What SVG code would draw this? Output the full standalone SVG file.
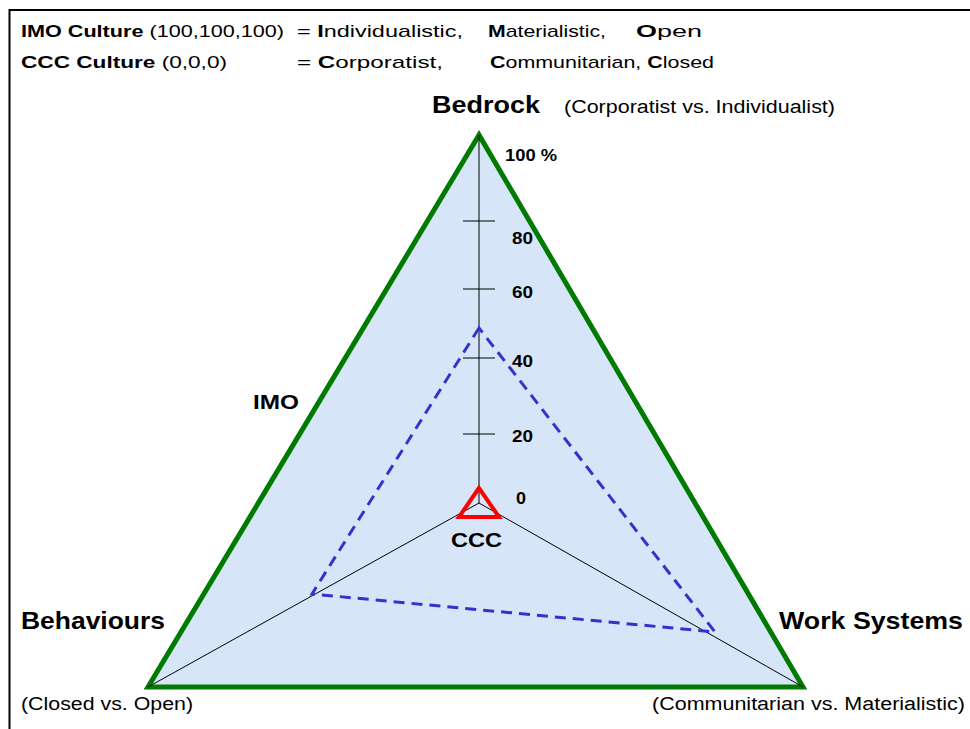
<svg xmlns="http://www.w3.org/2000/svg" width="970" height="729" viewBox="0 0 970 729">
<style>
text{font-family:"Liberation Sans",Arial,sans-serif;fill:#000}
.b{font-weight:bold}
.hdr{font-size:17px}
.big{font-size:24px;font-weight:bold}
.sub{font-size:18px}
.num{font-size:16px;font-weight:bold}
.thin{stroke:#000;stroke-width:1;fill:none}
</style>
<rect width="970" height="729" fill="#fff"/>
<path d="M9.5,729 V10 H970" fill="none" stroke="#000" stroke-width="2"/>
<g id="legend">
<text class="hdr" x="21" y="37" textLength="263" lengthAdjust="spacingAndGlyphs"><tspan class="b">IMO Culture</tspan> (100,100,100)</text>
<text class="hdr" x="297" y="37" textLength="166" lengthAdjust="spacingAndGlyphs">= <tspan class="b">I</tspan>ndividualistic,</text>
<text class="hdr" x="488" y="37" textLength="118" lengthAdjust="spacingAndGlyphs"><tspan class="b">M</tspan>aterialistic,</text>
<text class="hdr" x="636" y="37" textLength="66" lengthAdjust="spacingAndGlyphs"><tspan class="b">O</tspan>pen</text>
<text class="hdr" x="21" y="68" textLength="206" lengthAdjust="spacingAndGlyphs"><tspan class="b">CCC Culture</tspan> (0,0,0)</text>
<text class="hdr" x="297" y="68" textLength="146" lengthAdjust="spacingAndGlyphs">= <tspan class="b">C</tspan>orporatist,</text>
<text class="hdr" x="490" y="68" textLength="224" lengthAdjust="spacingAndGlyphs"><tspan class="b">C</tspan>ommunitarian, <tspan class="b">C</tspan>losed</text>
</g>
<g id="triangle">
<polygon points="479,135 148,687 803,687" fill="#d6e6f8" stroke="#007a00" stroke-width="5" stroke-linejoin="miter"/>
</g>
<g id="connectors">
<line class="thin" x1="479" y1="135" x2="479" y2="503"/>
<line class="thin" x1="479" y1="503" x2="148" y2="687"/>
<line class="thin" x1="479" y1="503" x2="803" y2="687"/>
<g stroke="#000" stroke-width="1">
<line x1="463" y1="221" x2="495" y2="221"/>
<line x1="463" y1="289" x2="495" y2="289"/>
<line x1="463" y1="358" x2="495" y2="358"/>
<line x1="463" y1="434" x2="495" y2="434"/>
</g>
<polygon points="479,328 312,594 715,632" fill="none" stroke="#3333cc" stroke-width="3" stroke-dasharray="11,7"/>
</g>
<g id="ccc-marker">
<polygon points="479,488 459,517 499,517" fill="none" stroke="#ff0000" stroke-width="4"/>
<text class="b" x="451" y="547" font-size="21" textLength="51" lengthAdjust="spacingAndGlyphs">CCC</text>
</g>
<g id="scale">
<text class="num" x="505" y="161" textLength="52" lengthAdjust="spacingAndGlyphs">100 %</text>
<text class="num" x="512" y="244" textLength="21" lengthAdjust="spacingAndGlyphs">80</text>
<text class="num" x="512" y="298" textLength="21" lengthAdjust="spacingAndGlyphs">60</text>
<text class="num" x="512" y="367" textLength="21" lengthAdjust="spacingAndGlyphs">40</text>
<text class="num" x="512" y="442" textLength="21" lengthAdjust="spacingAndGlyphs">20</text>
<text class="num" x="516" y="504" textLength="10" lengthAdjust="spacingAndGlyphs">0</text>
</g>
<g id="bedrock">
<text class="big" x="432" y="113" textLength="108" lengthAdjust="spacingAndGlyphs">Bedrock</text>
<text class="sub" x="564" y="113" textLength="271" lengthAdjust="spacingAndGlyphs">(Corporatist vs. Individualist)</text>
</g>
<g id="imo">
<text class="b" x="253" y="409" font-size="20" textLength="46" lengthAdjust="spacingAndGlyphs">IMO</text>
</g>
<g id="behaviours">
<text class="big" x="21" y="629" textLength="144" lengthAdjust="spacingAndGlyphs">Behaviours</text>
<text class="sub" x="21" y="710" textLength="172" lengthAdjust="spacingAndGlyphs">(Closed vs. Open)</text>
</g>
<g id="work-systems">
<text class="big" x="779" y="629" textLength="184" lengthAdjust="spacingAndGlyphs">Work Systems</text>
<text class="sub" x="652" y="710" textLength="313" lengthAdjust="spacingAndGlyphs">(Communitarian vs. Materialistic)</text>
</g>
</svg>
